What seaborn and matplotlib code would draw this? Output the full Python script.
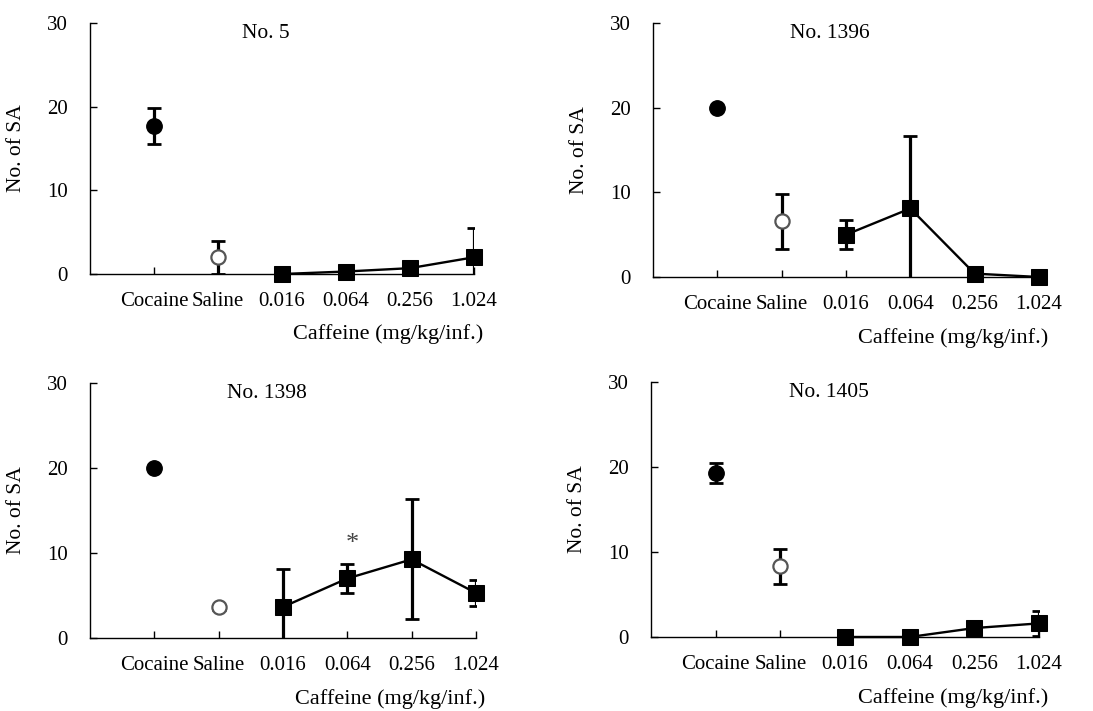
import matplotlib
matplotlib.use("Agg")
import matplotlib.pyplot as plt
import seaborn as sns
import numpy as np
import pandas as pd

# ---- data ----
categories = ["Cocaine", "Saline", "0.016", "0.064", "0.256", "1.024"]
panel_titles = ["No. 5", "No. 1396", "No. 1398", "No. 1405"]

cocaine_mean = [17.7, 20.0, 20.0, 19.3]
cocaine_err = [2.1, 0.0, 0.0, 1.15]
saline_mean = [2.0, 6.6, 3.6, 8.3]
saline_err = [2.0, 3.25, 0.3, 2.05]

caff_no5 = [0.0, 0.3, 0.7, 2.0]
caff_no5_err = [0.0, 0.0, 0.0, 3.5]
caff_no1396 = [5.0, 8.1, 0.4, 0.0]
caff_no1396_err = [1.7, 8.6, 0.0, 0.0]
caff_no1398 = [3.65, 7.0, 9.25, 5.3]
caff_no1398_err = [4.5, 1.7, 7.05, 1.5]
caff_no1405 = [0.0, 0.0, 1.05, 1.6]
caff_no1405_err = [0.0, 0.0, 0.8, 1.5]

caff_means = [caff_no5, caff_no1396, caff_no1398, caff_no1405]
caff_errs = [caff_no5_err, caff_no1396_err, caff_no1398_err, caff_no1405_err]

star_panel = 2
star_category = "0.064"
star_y = 11.0

yticks = [0, 10, 20, 30]
xlabel = "Caffeine (mg/kg/inf.)"
ylabel = "No. of SA"

# ---- style ----
sns.set_theme(style="ticks")
plt.rcParams["font.family"] = ["Liberation Serif", "DejaVu Serif"]

fig = plt.figure(figsize=(10.93, 7.11), dpi=100)
fig.patch.set_facecolor("white")

rects = [
    [0.0823, 0.6146, 0.3513, 0.353],
    [0.5974, 0.6104, 0.3532, 0.357],
    [0.0823, 0.1027, 0.3531, 0.3586],
    [0.5956, 0.1041, 0.3550, 0.3586],
]

xpos = np.arange(len(categories))
eb_kw = dict(fmt="none", ecolor="black", elinewidth=2.3, capsize=4.8,
             capthick=2.0, zorder=2)

for i, rect in enumerate(rects):
    ax = fig.add_axes(rect)
    ax.set_facecolor("white")

    # error bars (drawn under markers)
    ax.errorbar(xpos[0], cocaine_mean[i], yerr=cocaine_err[i], **eb_kw)
    ax.errorbar(xpos[1], saline_mean[i], yerr=saline_err[i], **eb_kw)
    ax.errorbar(xpos[2:], caff_means[i], yerr=caff_errs[i], **eb_kw)

    caff_df = pd.DataFrame({"x": xpos[2:], "y": caff_means[i]})
    sns.lineplot(data=caff_df, x="x", y="y", ax=ax, color="black", lw=1.7,
                 marker="s", markersize=11, markeredgecolor="black",
                 markerfacecolor="black", zorder=3, clip_on=False)

    coc_df = pd.DataFrame({"x": [xpos[0]], "y": [cocaine_mean[i]]})
    sns.scatterplot(data=coc_df, x="x", y="y", ax=ax, marker="o", s=125,
                    color="black", edgecolor="black", zorder=4)
    sal_df = pd.DataFrame({"x": [xpos[1]], "y": [saline_mean[i]]})
    sns.scatterplot(data=sal_df, x="x", y="y", ax=ax, marker="o", s=105,
                    color="white", edgecolor="#555555", linewidth=1.6, zorder=4)

    if i == star_panel:
        ax.text(categories.index(star_category) + 0.08, star_y, "*",
                ha="center", va="center", fontsize=19, color="#444444")

    ax.set_xlim(-1, len(categories) - 1)
    ax.set_ylim(0, 30)
    ax.set_yticks(yticks)
    ax.set_xticks(xpos)
    ax.set_xticklabels(categories)
    ax.tick_params(axis="both", direction="in", length=5, width=1,
                   color="black", labelsize=15, labelcolor="black")
    ax.tick_params(axis="y", pad=16)
    ax.tick_params(axis="x", pad=13)
    for s in ["top", "right"]:
        ax.spines[s].set_visible(False)
    for s in ["left", "bottom"]:
        ax.spines[s].set_color("black")
        ax.spines[s].set_linewidth(1.0)

    ax.set_xlabel("")
    ax.set_ylabel(ylabel, fontsize=15.5, color="black", labelpad=15)
    ax.text(1.025, -0.24, xlabel, transform=ax.transAxes, ha="right",
            va="center", fontsize=16, color="black")
    ax.text(0.458, 0.96, panel_titles[i], transform=ax.transAxes,
            ha="center", va="center", fontsize=15.5, color="black")

fig.savefig("out.png", dpi=100, facecolor="white")
